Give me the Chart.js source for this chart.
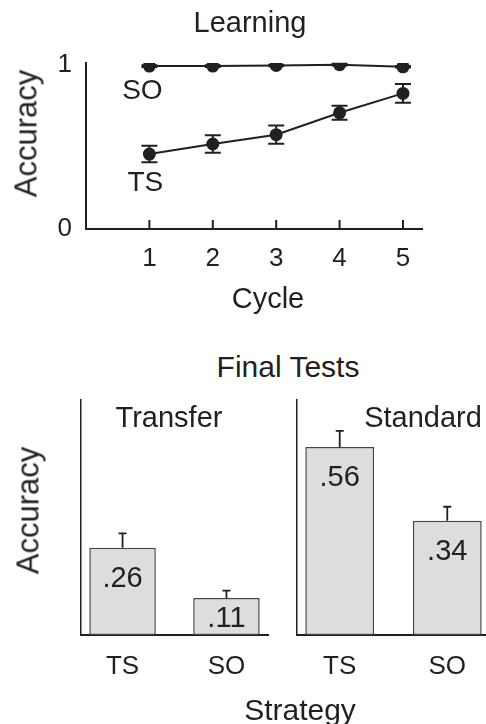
<!DOCTYPE html>
<html>
<head>
<meta charset="utf-8">
<script src="https://cdn.jsdelivr.net/npm/chart.js@4.4.0/dist/chart.umd.min.js"></script>
<style>
body{margin:0;background:#fff;width:486px;height:724px;overflow:hidden;position:relative;font-family:"Liberation Sans",Arial,sans-serif;color:#231f20}
canvas{position:absolute}
.lbl{position:absolute;width:240px;text-align:center;line-height:1;font-size:29px;white-space:nowrap}
.rot{transform:rotate(-90deg);font-size:31px}
</style>
</head>
<body>
<canvas id="learnChart" style="left:0;top:0" width="486" height="320"></canvas>
<div class="lbl" style="left:130px;top:8px">Learning</div>
<div class="lbl rot" style="left:-94px;top:118px">Accuracy</div>
<div class="lbl" style="left:148px;top:284px">Cycle</div>
<div class="lbl" style="left:168px;top:352px;font-size:30px">Final Tests</div>
<canvas id="transferChart" style="left:0;top:330px" width="276" height="394"></canvas>
<canvas id="standardChart" style="left:286px;top:330px" width="200" height="394"></canvas>
<div class="lbl rot" style="left:-92px;top:495px">Accuracy</div>
<div class="lbl" style="left:49px;top:403px">Transfer</div>
<div class="lbl" style="left:303px;top:403px">Standard</div>
<div class="lbl" style="left:180px;top:695px;font-size:30px">Strategy</div>
<script>
//données
const cycles = [1, 2, 3, 4, 5];
const soAcc = [0.991, 0.991, 0.995, 1.0, 0.987];
const soErr = [0.005, 0.005, 0.005, 0.005, 0.005];
const tsAcc = [0.456, 0.517, 0.574, 0.707, 0.825];
const tsErr = [0.05, 0.053, 0.055, 0.043, 0.057];

const strategies = ["TS", "SO"];
const transferAcc = [0.26, 0.11];
const transferErr = [0.043, 0.022];
const standardAcc = [0.56, 0.34];
const standardErr = [0.048, 0.042];

const ink = "#231f20";
const fontFam = "'Liberation Sans', Arial, sans-serif";

//barres d'erreur dessinées avec les échelles du graphique
const errorBars = {
    id: "errorBars",
    beforeDatasetsDraw(chart) {
        const ctx = chart.ctx;
        chart.data.datasets.forEach((ds, di) => {
            if (!ds.errors) return;
            const meta = chart.getDatasetMeta(di);
            const yScale = chart.scales[meta.yAxisID];
            ctx.save();
            ctx.strokeStyle = ink;
            ctx.lineWidth = ds.errorWidth;
            meta.data.forEach((el, i) => {
                const v = ds.data[i].y;
                const e = ds.errors[i];
                const top = yScale.getPixelForValue(v + e);
                const bot = ds.errorUpOnly ? el.y : yScale.getPixelForValue(v - e);
                ctx.beginPath();
                ctx.moveTo(el.x, top);
                ctx.lineTo(el.x, bot);
                ctx.moveTo(el.x - ds.capHalf, top);
                ctx.lineTo(el.x + ds.capHalf, top);
                if (!ds.errorUpOnly) {
                    ctx.moveTo(el.x - ds.capHalf, bot);
                    ctx.lineTo(el.x + ds.capHalf, bot);
                }
                ctx.stroke();
            });
            ctx.restore();
        });
    },
};

//petites graduations vers l'intérieur sur l'axe x
const innerTicks = {
    id: "innerTicks",
    afterDraw(chart, args, opts) {
        if (!opts.length) return;
        const xs = chart.scales.x;
        const ctx = chart.ctx;
        ctx.save();
        ctx.strokeStyle = ink;
        ctx.lineWidth = 2;
        xs.ticks.forEach(t => {
            const px = xs.getPixelForValue(t.value);
            ctx.beginPath();
            ctx.moveTo(px, xs.top);
            ctx.lineTo(px, xs.top - opts.length);
            ctx.stroke();
        });
        ctx.restore();
    },
};

//étiquettes SO / TS près de la première valeur et valeurs dans les barres
const textLabels = {
    id: "textLabels",
    afterDatasetsDraw(chart) {
        const ctx = chart.ctx;
        ctx.save();
        ctx.fillStyle = ink;
        ctx.textAlign = "center";
        ctx.textBaseline = "middle";
        chart.data.datasets.forEach((ds, di) => {
            const meta = chart.getDatasetMeta(di);
            if (ds.seriesLabel) {
                const p = meta.data[0];
                ctx.font = "28px " + fontFam;
                ctx.fillText(ds.seriesLabel, p.x + ds.labelDx, p.y + ds.labelDy);
            }
            if (ds.valueLabels) {
                ctx.font = "29px " + fontFam;
                meta.data.forEach((el, i) => {
                    const txt = ds.data[i].y.toFixed(2).replace(/^0/, "");
                    ctx.fillText(txt, el.x, Math.min(el.y + 31, el.base - 16));
                });
            }
        });
        ctx.restore();
    },
};

Chart.register(errorBars, innerTicks, textLabels);

let learnCan = document.getElementById("learnChart").getContext("2d");
var learnChart = new Chart(learnCan, {
    type: "line",
    data: {
        datasets: [{
            label: "SO",
            data: cycles.map((c, i) => ({x: c, y: soAcc[i]})),
            errors: soErr,
            borderColor: ink,
            borderWidth: 2,
            pointRadius: 6.5,
            pointBackgroundColor: ink,
            pointBorderWidth: 0,
            errorWidth: 2,
            capHalf: 8,
            seriesLabel: "SO",
            labelDx: -7,
            labelDy: 25,
        }, {
            label: "TS",
            data: cycles.map((c, i) => ({x: c, y: tsAcc[i]})),
            errors: tsErr,
            borderColor: ink,
            borderWidth: 2,
            pointRadius: 6.5,
            pointBackgroundColor: ink,
            pointBorderWidth: 0,
            errorWidth: 2,
            capHalf: 8,
            seriesLabel: "TS",
            labelDx: -4,
            labelDy: 29,
        }, ],
    },
    options: {
        responsive: false,
        animation: false,
        layout: {padding: {left: 0, right: 64, top: 63, bottom: 0}},
        scales: {
            x: {
                type: "linear",
                min: 0,
                max: 5.3,
                afterBuildTicks: s => { s.ticks = cycles.map(v => ({value: v})); },
                afterFit: s => { s.height = 91; },
                grid: {display: false, drawTicks: false},
                border: {color: ink, width: 2},
                ticks: {color: ink, font: {size: 26, family: fontFam}, padding: 14},
            },
            y: {
                min: 0,
                max: 1.01,
                afterBuildTicks: s => { s.ticks = [{value: 0}, {value: 1}]; },
                afterFit: s => { s.width = 86; },
                grid: {display: false, drawTicks: false},
                border: {color: ink, width: 2},
                ticks: {color: ink, font: {size: 26, family: fontFam}, padding: 14},
            },
        },
        plugins: {
            legend: {display: false},
            tooltip: {enabled: false},
            innerTicks: {length: 9},
        },
    },
});

//les deux panneaux du bas
function panelChart(canvasId, values, errs, yWidth, xMax, padRight) {
    let can = document.getElementById(canvasId).getContext("2d");
    return new Chart(can, {
        type: "bar",
        data: {
            datasets: [{
                label: canvasId,
                data: strategies.map((s, i) => ({x: i, y: values[i]})),
                errors: errs,
                errorUpOnly: true,
                errorWidth: 1.8,
                capHalf: 4,
                valueLabels: true,
                backgroundColor: "#dcdddf",
                borderColor: "#444",
                borderWidth: 1.5,
                borderSkipped: false,
                barPercentage: 0.64,
                categoryPercentage: 1,
            }, ],
        },
        options: {
            responsive: false,
            animation: false,
            layout: {padding: {left: 0, right: padRight, top: 70, bottom: 0}},
            scales: {
                x: {
                    type: "linear",
                    offset: false,
                    min: -0.4,
                    max: xMax,
                    afterBuildTicks: s => { s.ticks = strategies.map((_, i) => ({value: i})); },
                    afterFit: s => { s.height = 89; },
                    grid: {display: false, offset: false, drawTicks: false},
                    border: {color: ink, width: 2},
                    ticks: {
                        color: ink,
                        font: {size: 26, family: fontFam},
                        padding: 16,
                        callback: v => strategies[v],
                    },
                },
                y: {
                    min: 0,
                    max: 0.7,
                    afterFit: s => { s.width = yWidth; },
                    grid: {display: false, drawTicks: false},
                    border: {color: ink, width: 1.5},
                    ticks: {display: false},
                },
            },
            plugins: {
                legend: {display: false},
                tooltip: {enabled: false},
                innerTicks: {length: 0},
            },
        },
    });
}

var transferChart = panelChart("transferChart", transferAcc, transferErr, 81, 1.4, 8);
var standardChart = panelChart("standardChart", standardAcc, standardErr, 10.7, 1.36, 0);
</script>
</body>
</html>
